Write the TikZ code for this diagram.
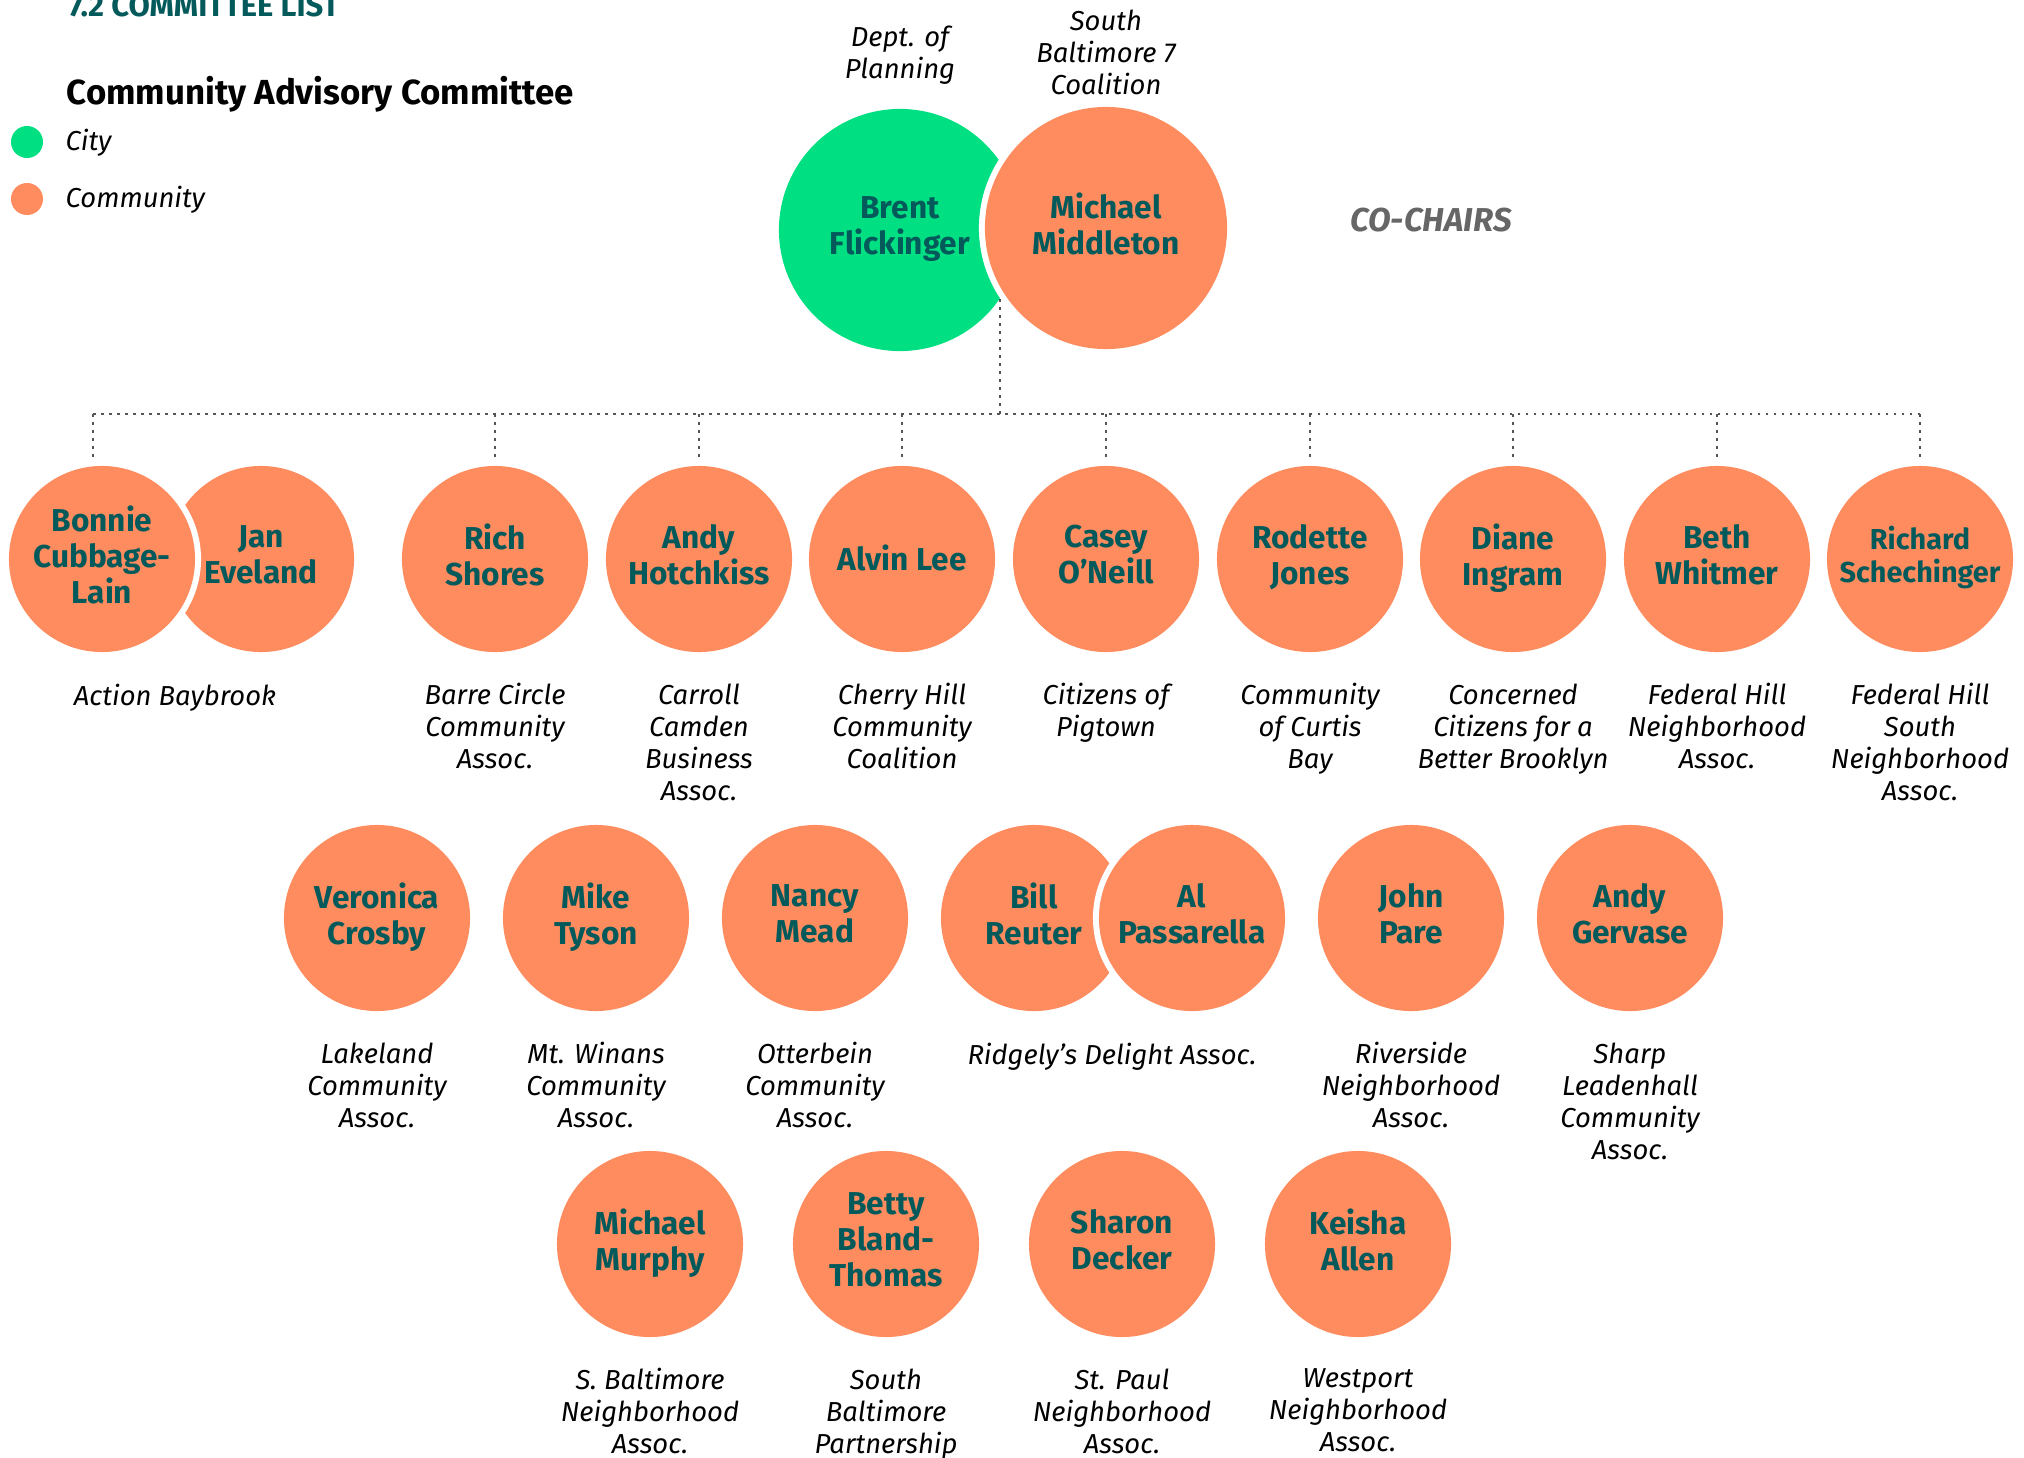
\documentclass[tikz,border=0pt]{standalone}
\usepackage{fontspec}
\setmainfont{Fira Sans}
\definecolor{citygreen}{HTML}{00E082}
\definecolor{commorange}{HTML}{FF8C5F}
\definecolor{nameteal}{HTML}{045A5A}
\definecolor{chairgray}{HTML}{666666}
\definecolor{dotgray}{HTML}{555555}
\newcommand{\namesize}{\fontsize{9}{10.2}\selectfont\bfseries}
\newcommand{\orgsize}{\fontsize{7.8}{9.1}\selectfont\itshape}
\newcommand{\nametop}{\rule{0pt}{9pt}}
\newcommand{\namebottom}{\rule[-2.5pt]{0pt}{2.5pt}}
\tikzset{
  member/.style={circle,fill=commorange,minimum size=1.86cm,inner sep=0pt,align=center,
    font=\namesize,text=nameteal,execute at begin node=\nametop,execute at end node=\namebottom},
  chair/.style={member,minimum size=2.42cm},
  city/.style={fill=citygreen},
  front/.style={preaction={draw=white,line width=0.12cm}},
  orgname/.style={anchor=north,inner sep=0pt,align=center,font=\orgsize,execute at begin node=\strut},
  below org/.style={orgname,yshift=-0.30cm},
  tick/.style={dotgray,line width=0.025cm,dash pattern=on 0.025cm off 0.055cm},
  keydot/.style={circle,minimum size=0.32cm,inner sep=0pt},
  keytext/.style={anchor=base west,inner sep=0pt,font=\orgsize}
}
\begin{document}
\begin{tikzpicture}[x=0.01cm,y=-0.01cm]
\useasboundingbox[fill=white] (0,0) rectangle (2024,1457);
% heading and legend
\node[anchor=base west,inner sep=0pt,font=\fontsize{8.8}{10}\selectfont\bfseries,text=nameteal] (section) at (68,16) {7.2 COMMITTEE LIST};
\node[anchor=base west,inner sep=0pt,font=\fontsize{9.9}{11}\selectfont\bfseries] (heading) at (66,104) {Community Advisory Committee};
\node[keydot,fill=citygreen] (key-city) at (27,142) {};
\node[keydot,fill=commorange] (key-comm) at (27,199) {};
\node[keytext] (key-city-txt) at (65,150) {City};
\node[keytext] (key-comm-txt) at (65,207) {Community};
% co-chairs
\node[chair,city] (brent) at (900,230) {Brent\\Flickinger};
\node[chair,front] (michael) at (1106,228) {Michael\\Middleton};
\node[orgname] (brent-org) at (900,25) {Dept. of\\Planning};
\node[orgname] (michael-org) at (1106,9) {South\\Baltimore 7\\Coalition};
\node[anchor=base,inner sep=0pt,font=\fontsize{9.4}{11}\selectfont\bfseries\itshape,text=chairgray] (cochairs) at (1431,231) {CO-CHAIRS};
% dotted tree
\coordinate (joint) at (1000,299);
\coordinate (bus-m) at (1000,414);
\coordinate (bus-l) at (93,414);
\coordinate (bus-r) at (1920,414);
\draw[tick] (joint) -- (bus-m);
\draw[tick] (bus-l) -- (bus-r);
% first row
\node[member] (jan) at (261,559) {Jan\\Eveland};
\node[member,front] (bonnie) at (102,559) {Bonnie\\Cubbage-\\Lain};
\node[member] (rich) at (495,559) {Rich\\Shores};
\node[member] (andyh) at (699,559) {Andy\\Hotchkiss};
\node[member] (alvin) at (902,559) {Alvin Lee};
\node[member] (casey) at (1106,559) {Casey\\O’Neill};
\node[member] (rodette) at (1310,559) {Rodette\\Jones};
\node[member] (diane) at (1513,559) {Diane\\Ingram};
\node[member] (beth) at (1717,559) {Beth\\Whitmer};
\node[member,font=\fontsize{8.2}{9.4}\selectfont\bfseries] (richard) at (1920,559) {Richard\\Schechinger};
\draw[tick,shorten >=0.06cm] (bus-l) -- (bus-l |- bonnie.north);
\foreach \n in {rich,andyh,alvin,casey,rodette,diane,beth,richard}
  \draw[tick,shorten >=0.06cm] (\n.north |- bus-l) -- (\n.north);
\node[orgname] (baybrook) at (175,682) {Action Baybrook};
\node[below org] (rich-org) at (rich.south) {Barre Circle\\Community\\Assoc.};
\node[below org] (andyh-org) at (andyh.south) {Carroll\\Camden\\Business\\Assoc.};
\node[below org] (alvin-org) at (alvin.south) {Cherry Hill\\Community\\Coalition};
\node[below org] (casey-org) at (casey.south) {Citizens of\\Pigtown};
\node[below org] (rodette-org) at (rodette.south) {Community\\of Curtis\\Bay};
\node[below org] (diane-org) at (diane.south) {Concerned\\Citizens for a\\Better Brooklyn};
\node[below org] (beth-org) at (beth.south) {Federal Hill\\Neighborhood\\Assoc.};
\node[below org] (richard-org) at (richard.south) {Federal Hill\\South\\Neighborhood\\Assoc.};
% second row
\node[member] (veronica) at (377,918) {Veronica\\Crosby};
\node[member] (mike) at (596,918) {Mike\\Tyson};
\node[member] (nancy) at (815,918) {Nancy\\Mead};
\node[member] (bill) at (1034,918) {Bill\\Reuter};
\node[member,front] (al) at (1192,918) {Al\\Passarella};
\node[member] (john) at (1411,918) {John\\Pare};
\node[member] (andyg) at (1630,918) {Andy\\Gervase};
\node[below org] (veronica-org) at (veronica.south) {Lakeland\\Community\\Assoc.};
\node[below org] (mike-org) at (mike.south) {Mt. Winans\\Community\\Assoc.};
\node[below org] (nancy-org) at (nancy.south) {Otterbein\\Community\\Assoc.};
\node[orgname] (ridgely) at (1112,1041) {Ridgely's Delight Assoc.};
\node[below org] (john-org) at (john.south) {Riverside\\Neighborhood\\Assoc.};
\node[below org] (andyg-org) at (andyg.south) {Sharp\\Leadenhall\\Community\\Assoc.};
% third row
\node[member] (murphy) at (650,1244) {Michael\\Murphy};
\node[member] (betty) at (886,1244) {Betty\\Bland-\\Thomas};
\node[member] (sharon) at (1122,1244) {Sharon\\Decker};
\node[member] (keisha) at (1358,1244) {Keisha\\Allen};
\node[below org] (murphy-org) at (murphy.south) {S. Baltimore\\Neighborhood\\Assoc.};
\node[below org] (betty-org) at (betty.south) {South\\Baltimore\\Partnership};
\node[below org] (sharon-org) at (sharon.south) {St. Paul\\Neighborhood\\Assoc.};
\node[below org] (keisha-org) at (keisha.south) {Westport\\Neighborhood\\Assoc.};
\end{tikzpicture}
\end{document}
